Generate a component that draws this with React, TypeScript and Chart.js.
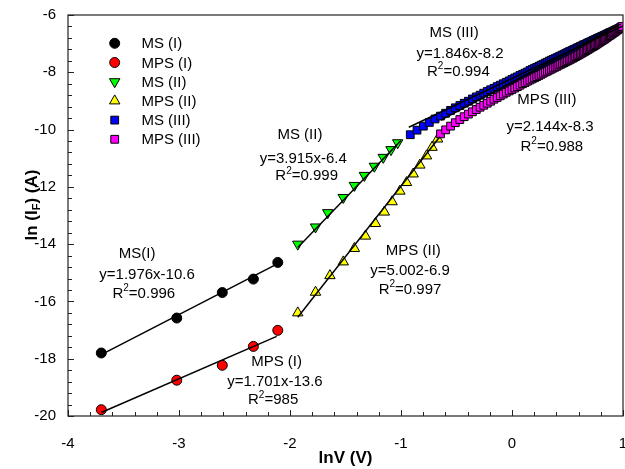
import React, { useEffect, useRef } from "react";
import { Chart, registerables } from "chart.js";

Chart.register(...registerables);

const FONT = 'Arial, "Liberation Sans", Helvetica, sans-serif';

// ---------- data ----------
const xTicksMajor = [-4, -3, -2, -1, 0, 1];
const yTicksMajor = [-20, -18, -16, -14, -12, -10, -8, -6];

const msI_x = [-3.70, -3.02, -2.61, -2.33, -2.11];
const msI_y = [-17.80, -16.58, -15.69, -15.22, -14.64];
const mpsI_x = [-3.70, -3.02, -2.61, -2.33, -2.11];
const mpsI_y = [-19.78, -18.75, -18.23, -17.57, -17.01];

const msII_x = [-1.93, -1.77, -1.66, -1.52, -1.42, -1.33, -1.24, -1.16, -1.09, -1.03];
const msII_y = [-14.00, -13.40, -12.90, -12.37, -11.95, -11.60, -11.28, -10.97, -10.70, -10.46];

const mpsII_x = [-1.93, -1.77, -1.64, -1.52, -1.42, -1.32, -1.23, -1.15, -1.08, -1.01, -0.95, -0.89, -0.83, -0.77, -0.72, -0.67];
const mpsII_y = [-16.40, -15.68, -15.10, -14.62, -14.15, -13.72, -13.28, -12.88, -12.52, -12.15, -11.85, -11.55, -11.24, -10.92, -10.62, -10.33];

const msIII_x = [
  -0.9163, -0.8557, -0.7985, -0.7445, -0.6931, -0.6444, -0.5978, -0.5534, -0.5108, -0.4700,
  -0.4308, -0.3930, -0.3567, -0.3216, -0.2877, -0.2549, -0.2231, -0.1924, -0.1625, -0.1335,
  -0.1054, -0.0780, -0.0513, -0.0253, 0.0000, 0.0247, 0.0488, 0.0723, 0.0953, 0.1178,
  0.1398, 0.1612, 0.1823, 0.2029, 0.2231, 0.2429, 0.2624, 0.2814, 0.3001, 0.3185,
  0.3365, 0.3542, 0.3716, 0.3887, 0.4055, 0.4220, 0.4383, 0.4543, 0.4700, 0.4855,
  0.5008, 0.5158, 0.5306, 0.5452, 0.5596, 0.5738, 0.5878, 0.6016, 0.6152, 0.6286,
  0.6419, 0.6549, 0.6678, 0.6806, 0.6931, 0.7055, 0.7178, 0.7299, 0.7419, 0.7538,
  0.7655, 0.7770, 0.7885, 0.7998, 0.8109, 0.8220, 0.8329, 0.8437, 0.8544, 0.8650,
  0.8755, 0.8858, 0.8961, 0.9062, 0.9163, 0.9262, 0.9361, 0.9459, 0.9555, 0.9651,
  0.9746, 0.9839, 0.9932,
];
const msIII_y = [
  -10.18, -10.02, -9.88, -9.75, -9.63, -9.53, -9.43, -9.33, -9.24, -9.16,
  -9.08, -9.01, -8.93, -8.86, -8.80, -8.73, -8.67, -8.61, -8.56, -8.50,
  -8.45, -8.40, -8.35, -8.30, -8.25, -8.20, -8.16, -8.11, -8.07, -8.03,
  -7.99, -7.94, -7.90, -7.86, -7.83, -7.79, -7.75, -7.72, -7.68, -7.65,
  -7.61, -7.58, -7.55, -7.52, -7.49, -7.46, -7.43, -7.40, -7.37, -7.34,
  -7.31, -7.28, -7.26, -7.23, -7.20, -7.18, -7.15, -7.13, -7.10, -7.08,
  -7.05, -7.03, -7.01, -6.98, -6.96, -6.94, -6.92, -6.89, -6.87, -6.85,
  -6.83, -6.81, -6.79, -6.77, -6.75, -6.73, -6.71, -6.69, -6.67, -6.65,
  -6.63, -6.61, -6.60, -6.58, -6.56, -6.54, -6.52, -6.51, -6.49, -6.47,
  -6.45, -6.44, -6.43,
];

const mpsIII_x = [
  -0.6444, -0.5978, -0.5534, -0.5108, -0.4700,
  -0.4308, -0.3930, -0.3567, -0.3216, -0.2877, -0.2549, -0.2231, -0.1924, -0.1625, -0.1335,
  -0.1054, -0.0780, -0.0513, -0.0253, 0.0000, 0.0247, 0.0488, 0.0723, 0.0953, 0.1178,
  0.1398, 0.1612, 0.1823, 0.2029, 0.2231, 0.2429, 0.2624, 0.2814, 0.3001, 0.3185,
  0.3365, 0.3542, 0.3716, 0.3887, 0.4055, 0.4220, 0.4383, 0.4543, 0.4700, 0.4855,
  0.5008, 0.5158, 0.5306, 0.5452, 0.5596, 0.5738, 0.5878, 0.6016, 0.6152, 0.6286,
  0.6419, 0.6549, 0.6678, 0.6806, 0.6931, 0.7055, 0.7178, 0.7299, 0.7419, 0.7538,
  0.7655, 0.7770, 0.7885, 0.7998, 0.8109, 0.8220, 0.8329, 0.8437, 0.8544, 0.8650,
  0.8755, 0.8858, 0.8961, 0.9062, 0.9163, 0.9262, 0.9361, 0.9459, 0.9555, 0.9651,
  0.9746, 0.9839, 0.9932,
];
const mpsIII_y = [
  -10.15, -10.01, -9.88, -9.76, -9.65,
  -9.55, -9.46, -9.38, -9.30, -9.22, -9.15, -9.08, -9.01, -8.94, -8.88,
  -8.82, -8.76, -8.70, -8.65, -8.60, -8.55, -8.50, -8.45, -8.40, -8.36,
  -8.31, -8.27, -8.23, -8.19, -8.15, -8.11, -8.07, -8.03, -7.99, -7.96,
  -7.92, -7.89, -7.85, -7.82, -7.79, -7.75, -7.72, -7.69, -7.66, -7.63,
  -7.60, -7.57, -7.54, -7.51, -7.48, -7.45, -7.42, -7.39, -7.36, -7.33,
  -7.30, -7.27, -7.24, -7.21, -7.18, -7.15, -7.12, -7.10, -7.07, -7.04,
  -7.01, -6.98, -6.95, -6.92, -6.89, -6.87, -6.84, -6.81, -6.78, -6.75,
  -6.72, -6.70, -6.67, -6.64, -6.61, -6.59, -6.56, -6.53, -6.50, -6.48,
  -6.45, -6.42, -6.40,
];

// linear-fit lines (end points)
const fitMSI_x = [-3.70, -2.11];
const fitMSI_y = [-17.86, -14.68];
const fitMPSI_x = [-3.70, -2.12];
const fitMPSI_y = [-19.88, -17.22];
const fitMSII_x = [-1.93, -1.00];
const fitMSII_y = [-14.12, -10.38];
const fitMPSII_x = [-1.93, -0.65];
const fitMPSII_y = [-16.55, -10.25];
const fitMSIII_x = [-0.93, 1.00];
const fitMSIII_y = [-9.92, -6.38];
const fitMPSIII_x = [-0.64, 0.98];
const fitMPSIII_y = [-9.67, -6.32];

const seriesNames = ["MS (I)", "MPS (I)", "MS (II)", "MPS (II)", "MS (III)", "MPS (III)"];

// annotation texts ( ^ = superscript of next char )
const annoLines = [
  { x: -3.378, y: -14.35, t: "MS(I)" },
  { x: -3.288, y: -15.08, t: "y=1.976x-10.6" },
  { x: -3.317, y: -15.72, t: "R^2=0.996" },
  { x: -2.121, y: -18.11, t: "MPS (I)" },
  { x: -2.136, y: -18.81, t: "y=1.701x-13.6" },
  { x: -2.152, y: -19.45, t: "R^2=985" },
  { x: -1.911, y: -10.19, t: "MS (II)" },
  { x: -1.881, y: -11.01, t: "y=3.915x-6.4" },
  { x: -1.850, y: -11.63, t: "R^2=0.999" },
  { x: -0.889, y: -14.24, t: "MPS (II)" },
  { x: -0.919, y: -14.93, t: "y=5.002-6.9" },
  { x: -0.919, y: -15.58, t: "R^2=0.997" },
  { x: -0.522, y: -6.64, t: "MS (III)" },
  { x: -0.468, y: -7.34, t: "y=1.846x-8.2" },
  { x: -0.483, y: -7.98, t: "R^2=0.994" },
  { x: 0.314, y: -8.97, t: "MPS (III)" },
  { x: 0.343, y: -9.92, t: "y=2.144x-8.3" },
  { x: 0.359, y: -10.60, t: "R^2=0.988" },
];

// ---------- helpers ----------
const zip = (xs: number[], ys: number[]) => xs.map((x, i) => ({ x, y: ys[i] }));

type Seg = { t: string; k: number };
function segs(s: string): Seg[] {
  const out: Seg[] = [];
  let buf = "";
  for (let i = 0; i < s.length; i++) {
    const c = s[i];
    if ((c === "^" || c === "_") && i + 1 < s.length) {
      if (buf) out.push({ t: buf, k: 0 });
      buf = "";
      out.push({ t: s[i + 1], k: c === "^" ? 1 : -1 });
      i++;
    } else buf += c;
  }
  if (buf) out.push({ t: buf, k: 0 });
  return out;
}

function drawRich(ctx: CanvasRenderingContext2D, s: string, cx: number, cy: number, size: number, bold: boolean, align: "center" | "left" = "center") {
  const main = `${bold ? "bold " : ""}${size}px ${FONT}`;
  const small = `${bold ? "bold " : ""}${Math.round(size * 0.65)}px ${FONT}`;
  const parts = segs(s);
  let w = 0;
  for (const p of parts) {
    ctx.font = p.k ? small : main;
    w += ctx.measureText(p.t).width;
  }
  let x = align === "center" ? cx - w / 2 : cx;
  ctx.textAlign = "left";
  ctx.textBaseline = "middle";
  for (const p of parts) {
    ctx.font = p.k ? small : main;
    const dy = p.k === 1 ? -size * 0.35 : p.k === -1 ? size * 0.3 : 0;
    ctx.fillText(p.t, x, cy + dy);
    x += ctx.measureText(p.t).width;
  }
}

function drawMarker(ctx: CanvasRenderingContext2D, style: string, x: number, y: number, fill: string) {
  ctx.beginPath();
  if (style === "circle") {
    ctx.arc(x, y, 5, 0, Math.PI * 2);
  } else if (style === "tri-up" || style === "tri-down") {
    const r = 6;
    const rot = style === "tri-up" ? 0 : Math.PI;
    for (let i = 0; i < 3; i++) {
      const a = rot + (i * 2 * Math.PI) / 3;
      const px = x + Math.sin(a) * r;
      const py = y - Math.cos(a) * r;
      if (i === 0) ctx.moveTo(px, py);
      else ctx.lineTo(px, py);
    }
    ctx.closePath();
  } else {
    const h = 3.9;
    ctx.rect(x - h, y - h, 2 * h, 2 * h);
  }
  ctx.fillStyle = fill;
  ctx.fill();
  ctx.lineWidth = 1;
  ctx.strokeStyle = "#000";
  ctx.stroke();
}

const legendStyles = ["circle", "circle", "tri-down", "tri-up", "square", "square"];
const legendColors = ["#000000", "#ff0000", "#00ff00", "#ffff00", "#0000ff", "#ff00ff"];

const decorPlugin = {
  id: "decor",
  afterDatasetsDraw(chart: any) {
    const ctx: CanvasRenderingContext2D = chart.ctx;
    const { left, right, top, bottom } = chart.chartArea;
    const xs = chart.scales.x;
    const ys = chart.scales.y;
    ctx.save();
    // frame
    ctx.strokeStyle = "#222";
    ctx.lineWidth = 1.2;
    ctx.strokeRect(left, top, right - left, bottom - top);
    // ticks (inward)
    ctx.beginPath();
    for (let i = 0; i <= 25; i++) {
      const v = -4 + i * 0.2;
      const px = Math.round(xs.getPixelForValue(v)) + 0.5;
      const len = i % 5 === 0 ? 6 : 4;
      ctx.moveTo(px, bottom);
      ctx.lineTo(px, bottom - len);
    }
    for (let i = 0; i <= 35; i++) {
      const v = -20 + i * 0.4;
      const py = Math.round(ys.getPixelForValue(v)) + 0.5;
      const len = i % 5 === 0 ? 6 : 4;
      ctx.moveTo(left, py);
      ctx.lineTo(left + len, py);
    }
    ctx.lineWidth = 1;
    ctx.stroke();

    // legend
    ctx.fillStyle = "#000";
    for (let i = 0; i < seriesNames.length; i++) {
      const y = top + 28.3 + i * 19.2;
      drawMarker(ctx, legendStyles[i], left + 46.7, y, legendColors[i]);
      ctx.fillStyle = "#000";
      ctx.font = `15px ${FONT}`;
      ctx.textAlign = "left";
      ctx.textBaseline = "middle";
      ctx.fillText(seriesNames[i], left + 73.4, y + 1);
    }

    // annotations
    ctx.fillStyle = "#000";
    for (const a of annoLines) {
      drawRich(ctx, a.t, xs.getPixelForValue(a.x), ys.getPixelForValue(a.y), 15, false);
    }

    // axis titles
    drawRich(ctx, "lnV (V)", (left + right) / 2 - 0.5 * 0 + 0, 458, 17, true);
    ctx.save();
    ctx.translate(32, 205);
    ctx.rotate(-Math.PI / 2);
    drawRich(ctx, "ln (I_F) (A)", 0, 0, 17, true);
    ctx.restore();
    ctx.restore();
  },
};

export default function App() {
  const ref = useRef<HTMLCanvasElement | null>(null);

  useEffect(() => {
    document.body.style.margin = "0";
    document.body.style.overflow = "hidden";
    const canvas = ref.current;
    if (!canvas) return;

    const fit = (xs: number[], ys: number[], label: string) => ({
      type: "line" as const,
      label,
      data: zip(xs, ys),
      showLine: true,
      borderColor: "#000",
      borderWidth: 1.5,
      pointRadius: 0,
      fill: false,
      order: 0,
    });
    const pts = (xs: number[], ys: number[], label: string, style: string, color: string, radius: number, rot: number, order: number) => ({
      label,
      data: zip(xs, ys),
      showLine: false,
      pointStyle: style,
      pointRadius: radius,
      pointRotation: rot,
      backgroundColor: color,
      borderColor: "#000",
      borderWidth: 1,
      order,
    });

    const chart = new Chart(canvas, {
      type: "scatter",
      data: {
        datasets: [
          fit(fitMSI_x, fitMSI_y, "fit MS (I)"),
          fit(fitMPSI_x, fitMPSI_y, "fit MPS (I)"),
          fit(fitMSII_x, fitMSII_y, "fit MS (II)"),
          fit(fitMPSII_x, fitMPSII_y, "fit MPS (II)"),
          fit(fitMSIII_x, fitMSIII_y, "fit MS (III)"),
          fit(fitMPSIII_x, fitMPSIII_y, "fit MPS (III)"),
          pts(msI_x, msI_y, seriesNames[0], "circle", "#000000", 5, 0, 6),
          pts(mpsI_x, mpsI_y, seriesNames[1], "circle", "#ff0000", 5, 0, 5),
          pts(msII_x, msII_y, seriesNames[2], "triangle", "#00ff00", 6, 180, 4),
          pts(mpsII_x, mpsII_y, seriesNames[3], "triangle", "#ffff00", 6, 0, 3),
          pts(msIII_x, msIII_y, seriesNames[4], "rect", "#0000ff", 5.5, 0, 2),
          pts(mpsIII_x, mpsIII_y, seriesNames[5], "rect", "#ff00ff", 5.5, 0, 1),
        ] as any,
      },
      options: {
        responsive: false,
        animation: false,
        devicePixelRatio: 1,
        layout: { padding: { top: 15, right: 17, left: 0, bottom: 0 } },
        plugins: {
          legend: { display: false },
          tooltip: { enabled: false },
        },
        scales: {
          x: {
            type: "linear",
            min: -4,
            max: 1,
            afterFit: (s: any) => {
              s.height = 53;
            },
            afterBuildTicks: (s: any) => {
              s.ticks = xTicksMajor.map((v) => ({ value: v }));
            },
            ticks: {
              font: { family: FONT, size: 15 },
              color: "#000",
              padding: 11,
              maxRotation: 0,
              autoSkip: false,
            },
            grid: { display: false },
            border: { display: false },
          },
          y: {
            type: "linear",
            min: -20,
            max: -6,
            afterFit: (s: any) => {
              s.width = 68;
            },
            afterBuildTicks: (s: any) => {
              s.ticks = yTicksMajor.map((v) => ({ value: v }));
            },
            ticks: {
              font: { family: FONT, size: 15 },
              color: "#000",
              padding: 4,
              autoSkip: false,
            },
            grid: { display: false },
            border: { display: false },
          },
        },
      } as any,
      plugins: [decorPlugin],
    });

    return () => chart.destroy();
  }, []);

  return (
    <div style={{ width: 640, height: 469, position: "relative" }}>
      <canvas ref={ref} width={640} height={469} style={{ display: "block" }} />
    </div>
  );
}
